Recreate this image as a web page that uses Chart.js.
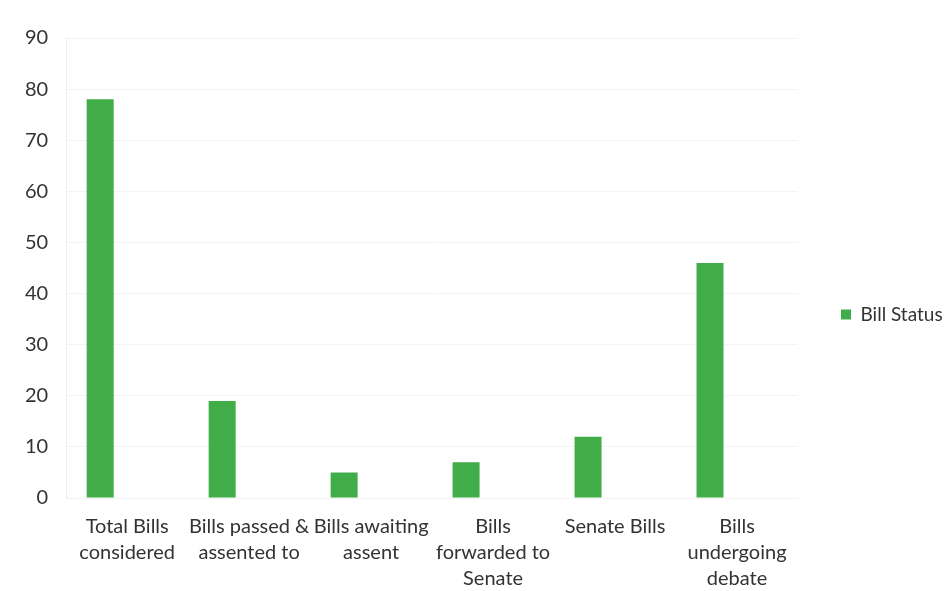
<!DOCTYPE html>
<html>
<head>
<meta charset="utf-8">
<script src="https://cdn.jsdelivr.net/npm/chart.js@4/dist/chart.umd.min.js"></script>
<style>
  html, body { margin: 0; padding: 0; background: #fff; }
  #wrap { width: 945px; height: 591px; position: relative; }
</style>
</head>
<body>
<div id="wrap"><canvas id="chart"></canvas></div>
<script>
// categories (wrapped as in the original)
const categories = [
    ['Total Bills', 'considered'],
    ['Bills passed &', 'assented to'],
    ['Bills awaiting', 'assent'],
    ['Bills', 'forwarded to', 'Senate'],
    ['Senate Bills'],
    ['Bills', 'undergoing', 'debate']
];
const billStatus = [78, 19, 5, 7, 12, 46];
// the original sheet has two more (empty) series that keep their slots
const emptySeries = [null, null, null, null, null, null];
const yTicks = { min: 0, max: 90, step: 10 };

const ctx = document.getElementById('chart').getContext('2d');
const font = "Lato, 'Open Sans', sans-serif";

new Chart(ctx, {
    type: 'bar',
    data: {
        labels: categories,
        datasets: [
            { label: 'Bill Status', data: billStatus, backgroundColor: '#41ad49' },
            { label: '', data: emptySeries, backgroundColor: '#ffffff' },
            { label: '', data: emptySeries, backgroundColor: '#ffffff' }
        ]
    },
    options: {
        responsive: true,
        maintainAspectRatio: false,
        animation: false,
        categoryPercentage: 0.664,
        barPercentage: 1.0,
        layout: { padding: { top: 38, left: 7, right: 0, bottom: 0 } },
        plugins: {
            tooltip: { enabled: false },
            legend: {
                position: 'right',
                maxWidth: 147,
                labels: {
                    filter: item => item.text !== '',
                    boxWidth: 10,
                    boxHeight: 10,
                    padding: 43,
                    color: '#333',
                    font: { family: font, size: 19 }
                }
            }
        },
        scales: {
            x: {
                grid: { display: false },
                border: { display: true, color: '#f2f2f2' },
                afterFit: scale => { scale.height = 93; },
                ticks: {
                    color: '#333',
                    maxRotation: 0,
                    autoSkip: false,
                    padding: 8,
                    font: { family: font, size: 20, lineHeight: 1.3 }
                }
            },
            y: {
                min: yTicks.min,
                max: yTicks.max,
                grid: { color: '#f3f3f3', drawTicks: false },
                border: { display: true, color: '#eeeeee' },
                ticks: {
                    stepSize: yTicks.step,
                    padding: 18,
                    color: '#333',
                    font: { family: font, size: 20 }
                }
            }
        }
    }
});
</script>
</body>
</html>
